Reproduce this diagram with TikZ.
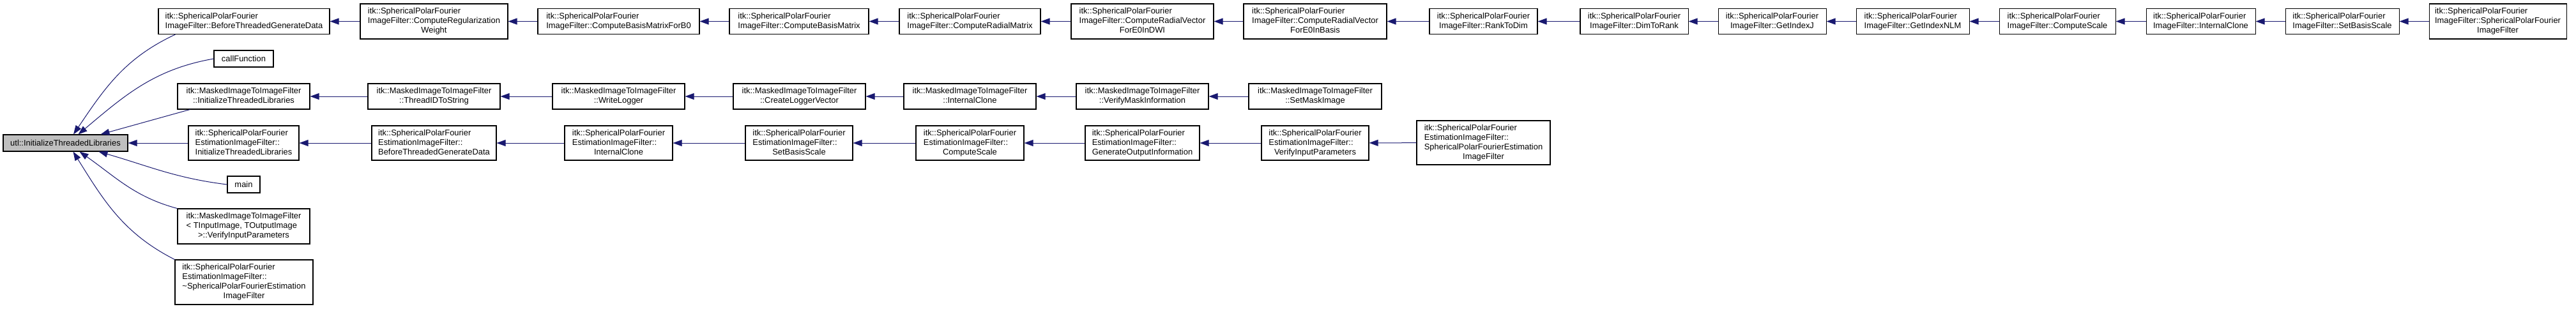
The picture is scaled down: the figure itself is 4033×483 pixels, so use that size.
\documentclass[tikz,border=0pt]{standalone}
\usepackage{fontspec}
\setmainfont{Liberation Sans}
\usetikzlibrary{arrows.meta,calc}
\definecolor{edgeblue}{HTML}{191970}
\definecolor{rootgray}{HTML}{BFBFBF}
% lines left, last line centred
\newcommand{\fnl}[2]{\begin{tabular}{@{}l@{}}#1\\\multicolumn{1}{@{}c@{}}{#2}\end{tabular}}

\begin{document}
\begin{tikzpicture}[x=0.75pt, y=-0.75pt,
  every node/.style={font=\fontsize{9.7}{11.25}\selectfont, inner sep=0pt},
  fn/.style 2 args={draw=black, line width=0.8pt, fill=white, minimum width=#1*0.75pt, minimum height=#2*0.75pt},
  call/.style={draw=edgeblue, line width=0.75pt, {Triangle[length=10.5pt,width=7.5pt]}-}]
  \useasboundingbox (0,0) rectangle (4033,483);
  \node[fn={195}{26}, fill=rootgray] (root) at (102.5,224) {utl::InitializeThreadedLibraries};

  % direct callers
  \node[fn={268}{40}] (spfbtgd) at (382,33.5) {\fnl{itk::SphericalPolarFourier}{ImageFilter::BeforeThreadedGenerateData}};
  \node[fn={93}{26}] (callfn) at (381.5,92) {callFunction};
  \node[fn={207}{40}] (mitl) at (381.5,151) {\fnl{itk::MaskedImageToImageFilter}{::InitializeThreadedLibraries}};
  \node[fn={173}{54}] (spfeitl) at (381.5,224) {\fnl{itk::SphericalPolarFourier\\EstimationImageFilter::}{InitializeThreadedLibraries}};
  \node[fn={51}{26}] (main) at (381.5,289) {main};
  \node[fn={207}{55}] (mvip) at (381.5,354.5) {\fnl{itk::MaskedImageToImageFilter\\< TInputImage, TOutputImage}{>::VerifyInputParameters}};
  \node[fn={216}{70}] (spfedtor) at (382,442) {\fnl{itk::SphericalPolarFourier\\EstimationImageFilter::\\\textasciitilde SphericalPolarFourierEstimation}{ImageFilter}};

  % top row
  \node[fn={231}{55}] (crw) at (679.5,33.5) {\fnl{itk::SphericalPolarFourier\\ImageFilter::ComputeRegularization}{Weight}};
  \node[fn={253}{40}] (cbmb0) at (968.5,33.5) {\fnl{itk::SphericalPolarFourier}{ImageFilter::ComputeBasisMatrixForB0}};
  \node[fn={218}{40}] (cbm) at (1251,33.5) {\fnl{itk::SphericalPolarFourier}{ImageFilter::ComputeBasisMatrix}};
  \node[fn={221}{40}] (crm) at (1518.5,33.5) {\fnl{itk::SphericalPolarFourier}{ImageFilter::ComputeRadialMatrix}};
  \node[fn={223}{55}] (crvdwi) at (1788.5,33.5) {\fnl{itk::SphericalPolarFourier\\ImageFilter::ComputeRadialVector}{ForE0InDWI}};
  \node[fn={224}{55}] (crvbasis) at (2059,33.5) {\fnl{itk::SphericalPolarFourier\\ImageFilter::ComputeRadialVector}{ForE0InBasis}};
  \node[fn={169}{40}] (ranktodim) at (2322.5,33.5) {\fnl{itk::SphericalPolarFourier}{ImageFilter::RankToDim}};
  \node[fn={169}{40}] (dimtorank) at (2558.5,33.5) {\fnl{itk::SphericalPolarFourier}{ImageFilter::DimToRank}};
  \node[fn={169}{40}] (getj) at (2774.5,33.5) {\fnl{itk::SphericalPolarFourier}{ImageFilter::GetIndexJ}};
  \node[fn={177}{40}] (getnlm) at (2994.5,33.5) {\fnl{itk::SphericalPolarFourier}{ImageFilter::GetIndexNLM}};
  \node[fn={182}{40}] (spfscale) at (3221,33.5) {\fnl{itk::SphericalPolarFourier}{ImageFilter::ComputeScale}};
  \node[fn={171}{40}] (spfclone) at (3445.5,33.5) {\fnl{itk::SphericalPolarFourier}{ImageFilter::InternalClone}};
  \node[fn={178}{40}] (spfbasis) at (3667,33.5) {\fnl{itk::SphericalPolarFourier}{ImageFilter::SetBasisScale}};
  \node[fn={215}{55}] (spfctor) at (3910.5,33.5) {\fnl{itk::SphericalPolarFourier\\ImageFilter::SphericalPolarFourier}{ImageFilter}};

  % masked filter row
  \node[fn={207}{40}] (threadid) at (679.5,151) {\fnl{itk::MaskedImageToImageFilter}{::ThreadIDToString}};
  \node[fn={207}{40}] (writelog) at (968.5,151) {\fnl{itk::MaskedImageToImageFilter}{::WriteLogger}};
  \node[fn={207}{40}] (createlog) at (1251.5,151) {\fnl{itk::MaskedImageToImageFilter}{::CreateLoggerVector}};
  \node[fn={207}{40}] (mclone) at (1518.5,151) {\fnl{itk::MaskedImageToImageFilter}{::InternalClone}};
  \node[fn={207}{40}] (vmask) at (1788.5,151) {\fnl{itk::MaskedImageToImageFilter}{::VerifyMaskInformation}};
  \node[fn={208}{40}] (setmask) at (2059,151) {\fnl{itk::MaskedImageToImageFilter}{::SetMaskImage}};

  % estimation filter row
  \node[fn={195}{54}] (spfebtgd) at (679.5,224) {\fnl{itk::SphericalPolarFourier\\EstimationImageFilter::}{BeforeThreadedGenerateData}};
  \node[fn={169}{54}] (spfeclone) at (968.5,224) {\fnl{itk::SphericalPolarFourier\\EstimationImageFilter::}{InternalClone}};
  \node[fn={168}{54}] (spfebasis) at (1251,224) {\fnl{itk::SphericalPolarFourier\\EstimationImageFilter::}{SetBasisScale}};
  \node[fn={169}{54}] (spfescale) at (1518.5,224) {\fnl{itk::SphericalPolarFourier\\EstimationImageFilter::}{ComputeScale}};
  \node[fn={179}{54}] (spfegoi) at (1788.5,224) {\fnl{itk::SphericalPolarFourier\\EstimationImageFilter::}{GenerateOutputInformation}};
  \node[fn={168}{54}] (spfevip) at (2059,224) {\fnl{itk::SphericalPolarFourier\\EstimationImageFilter::}{VerifyInputParameters}};
  \node[fn={209}{69}] (spfector) at (2322.5,223.5) {\fnl{itk::SphericalPolarFourier\\EstimationImageFilter::\\SphericalPolarFourierEstimation}{ImageFilter}};

  % edges into the root
  \draw[call] ($(root.north)+(12.5,0)$) to[out=56,in=205] ($(spfbtgd.south west)+(27,0)$);
  \draw[call] ($(root.north)+(20,0)$) to[out=40,in=190] (callfn.west);
  \draw[call] ($(root.north)+(55,0)$) -- ($(mitl.south west)+(20,0)$);
  \draw[call] (root) -- (spfeitl);
  \draw[call] ($(root.south)+(52,0)$) to[out=-16,in=173] (main.west);
  \draw[call] ($(root.south)+(22,0)$) to[out=-35,in=165] (mvip.north west);
  \draw[call] ($(root.south)+(12,0)$) to[out=-58,in=153] (spfedtor.north west);

  % chains
  \draw[call] (spfbtgd) -- (crw);
  \draw[call] (crw) -- (cbmb0);
  \draw[call] (cbmb0) -- (cbm);
  \draw[call] (cbm) -- (crm);
  \draw[call] (crm) -- (crvdwi);
  \draw[call] (crvdwi) -- (crvbasis);
  \draw[call] (crvbasis) -- (ranktodim);
  \draw[call] (ranktodim) -- (dimtorank);
  \draw[call] (dimtorank) -- (getj);
  \draw[call] (getj) -- (getnlm);
  \draw[call] (getnlm) -- (spfscale);
  \draw[call] (spfscale) -- (spfclone);
  \draw[call] (spfclone) -- (spfbasis);
  \draw[call] (spfbasis) -- (spfctor);
  \draw[call] (mitl) -- (threadid);
  \draw[call] (threadid) -- (writelog);
  \draw[call] (writelog) -- (createlog);
  \draw[call] (createlog) -- (mclone);
  \draw[call] (mclone) -- (vmask);
  \draw[call] (vmask) -- (setmask);
  \draw[call] (spfeitl) -- (spfebtgd);
  \draw[call] (spfebtgd) -- (spfeclone);
  \draw[call] (spfeclone) -- (spfebasis);
  \draw[call] (spfebasis) -- (spfescale);
  \draw[call] (spfescale) -- (spfegoi);
  \draw[call] (spfegoi) -- (spfevip);
  \draw[call] (spfevip) -- (spfector);
\end{tikzpicture}
\end{document}
